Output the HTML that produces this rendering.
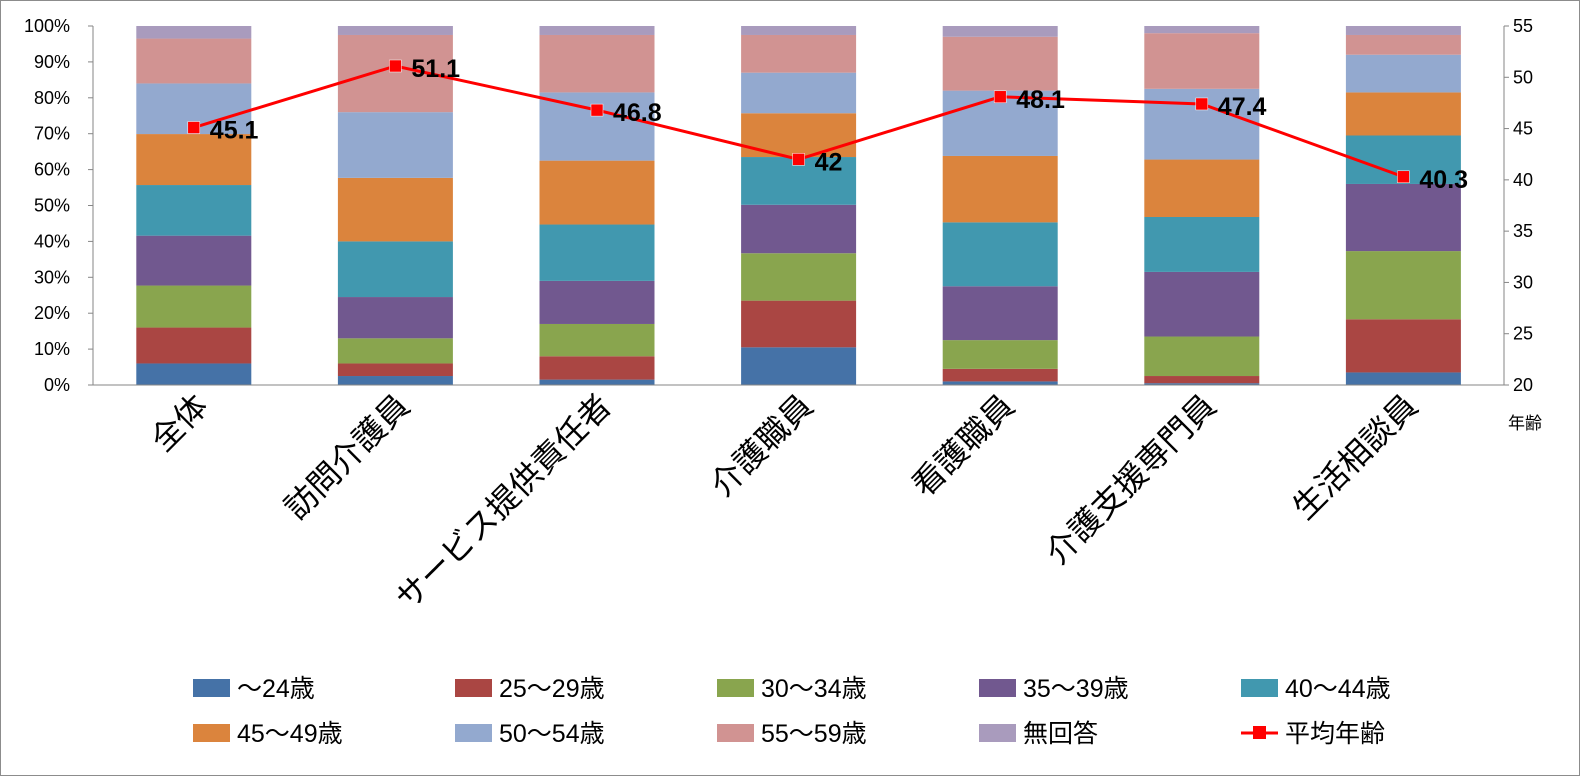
<!DOCTYPE html>
<html><head><meta charset="utf-8"><style>
body{margin:0;background:#fff}
svg{display:block;font-family:"Liberation Sans","Noto Sans CJK JP",sans-serif}
</style></head><body>
<svg width="1580" height="776" viewBox="0 0 1580 776" xmlns="http://www.w3.org/2000/svg">
<rect x="0.5" y="0.5" width="1579" height="775" fill="#fff" stroke="#8c8c8c"/>
<g id="bars"></g>
<line x1="93" y1="26" x2="93" y2="385" stroke="#868686"/>
<line x1="1504" y1="26" x2="1504" y2="385" stroke="#868686"/>
<line x1="93" y1="385" x2="1504" y2="385" stroke="#868686"/>
<g id="ticks" font-size="18" fill="#000"></g>
<text x="1525" y="429" font-size="17" text-anchor="middle">年齢</text>
<g id="cats" font-size="32"></g>
<polyline id="line" fill="none" stroke="#ff0000" stroke-width="3"/>
<g id="marks"></g>
<g id="legend" font-size="25"></g>
</svg>
<script>
const ns="http://www.w3.org/2000/svg";
function el(t,a,p,txt){const e=document.createElementNS(ns,t);for(const k in a)e.setAttribute(k,a[k]);if(txt!==undefined)e.textContent=txt;p.appendChild(e);return e;}
const colors=["#4572A7","#AA4643","#89A54E","#71588F","#4198AF","#DB843D","#93A9CF","#D19392","#A99BBD"];
const cum=[[6,16,27.7,41.6,55.7,69.9,84,96.5,100],[2.5,6,13,24.5,40,57.7,76,97.5,100],[1.5,8,17,29,44.7,62.5,81.5,97.5,100],[10.5,23.5,36.7,50.2,63.5,75.7,87,97.5,100],[1,4.5,12.5,27.5,45.3,63.8,82,97,100],[0.5,2.5,13.5,31.5,46.8,62.8,82.5,98,100],[3.5,18.3,37.3,56,69.5,81.5,92,97.5,100]];
const cats=["全体","訪問介護員","サービス提供責任者","介護職員","看護職員","介護支援専門員","生活相談員"];
const avg=[45.1,51.1,46.8,42,48.1,47.4,40.3];
const bars=document.getElementById("bars");
const yP=p=>385-p*3.59, yA=v=>385-(v-20)*359/35;
const cx=i=>93+201.6*(i+0.5);
cum.forEach((c,i)=>{let prev=0;c.forEach((v,j)=>{el("rect",{x:cx(i)-57.5,y:yP(v),width:115,height:yP(prev)-yP(v),fill:colors[j]},bars);prev=v;});});
const tk=document.getElementById("ticks");
for(let i=0;i<=10;i++){const y=yP(i*10);el("line",{x1:88,y1:y,x2:93,y2:y,stroke:"#868686"},tk);el("text",{x:70,y:y+6,"text-anchor":"end"},tk,(i*10)+"%");}
for(let v=20;v<=55;v+=5){const y=yA(v);el("line",{x1:1504,y1:y,x2:1509,y2:y,stroke:"#868686"},tk);el("text",{x:1513,y:y+6},tk,v);}
const cg=document.getElementById("cats");
cats.forEach((c,i)=>{el("text",{x:0,y:0,"text-anchor":"end",transform:`translate(${cx(i)+16},${408}) rotate(-45)`},cg,c);});
document.getElementById("line").setAttribute("points",avg.map((v,i)=>cx(i)+","+yA(v)).join(" "));
const mk=document.getElementById("marks");
avg.forEach((v,i)=>{el("rect",{x:cx(i)-6,y:yA(v)-6,width:12,height:12,fill:"#ff0000",stroke:"#fff","stroke-width":0.5},mk);el("text",{x:cx(i)+16,y:yA(v)+11,"font-size":25,"font-weight":"bold"},mk,String(v));});
const lg=document.getElementById("legend");
const labs=["～24歳","25～29歳","30～34歳","35～39歳","40～44歳","45～49歳","50～54歳","55～59歳","無回答","平均年齢"];
labs.forEach((l,k)=>{const col=k%5,row=Math.floor(k/5);const x=193+col*262,y=688+row*45;
if(k<9)el("rect",{x:x,y:y-9,width:37,height:18,fill:colors[k]},lg);
else{el("line",{x1:x,y1:y,x2:x+37,y2:y,stroke:"#ff0000","stroke-width":3},lg);el("rect",{x:x+12,y:y-7,width:13,height:13,fill:"#ff0000"},lg);}
el("text",{x:x+44,y:y+9},lg,l);});
</script>
</body></html>
